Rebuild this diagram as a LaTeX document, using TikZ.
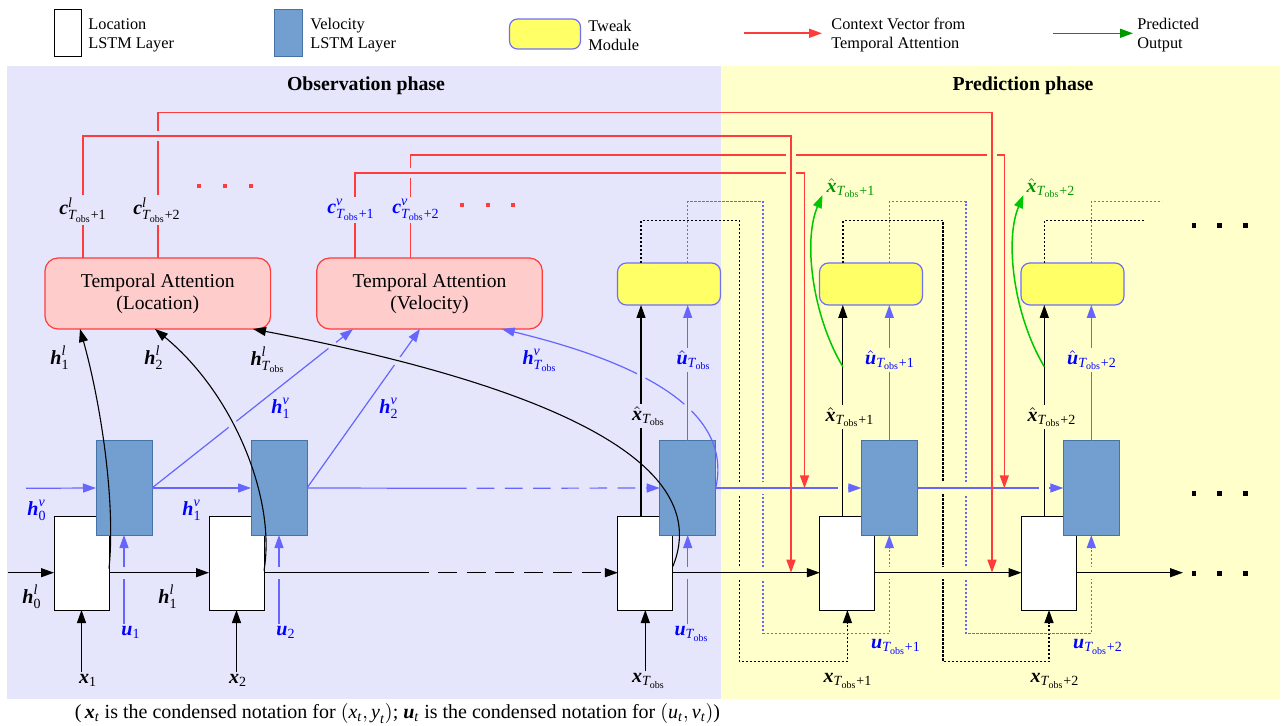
\documentclass[tikz,border=0pt]{standalone}
\usepackage{fontspec}
\usepackage{amsmath}
\setmainfont{Liberation Serif}
\setsansfont{Liberation Sans}
\usetikzlibrary{arrows.meta,calc,intersections}
\definecolor{lav}{RGB}{229,229,251}
\definecolor{yel}{RGB}{255,255,204}
\definecolor{velfill}{RGB}{114,159,207}
\definecolor{velborder}{RGB}{69,114,167}
\definecolor{twfill}{RGB}{255,255,102}
\definecolor{twborder}{RGB}{110,110,255}
\definecolor{tafill}{RGB}{255,204,204}
\definecolor{tared}{RGB}{255,60,60}
\definecolor{lblue}{RGB}{102,102,255}
\definecolor{tblue}{RGB}{0,0,255}
\definecolor{garrow}{RGB}{0,200,0}
\definecolor{gtext}{RGB}{0,150,0}
\newcommand{\bv}[1]{\text{\bfseries\itshape #1}}
\newcommand{\iv}[1]{\text{\itshape #1}}
\newcommand{\rv}[1]{\text{#1}}
\newcommand{\Tob}{\iv{T}_{\rv{obs}}}
\newcommand{\gapp}[5]{\fill[#1] ($(#2,#3)+(-#4,-#5)$) rectangle ($(#2,#3)+(#4,#5)$);}
\newcommand{\sqd}[3]{\fill[#1] ($(#2,#3)+(-2.3,-2.3)$) rectangle ($(#2,#3)+(2.3,2.3)$);}
\begin{document}
\begin{tikzpicture}[x=0.5pt,y=-0.5pt,
  kline/.style={draw=black,line width=0.55pt},
  bline/.style={draw=lblue,line width=0.6pt},
  rline/.style={draw=tared,line width=0.8pt},
  gline/.style={draw=garrow,line width=0.75pt},
  arr/.style={-{Triangle[length=6.5pt,width=4.5pt]}},
  kdot/.style={draw=black,line width=0.7pt,dash pattern=on 1.1pt off 0.9pt},
  bdot/.style={draw=lblue,line width=0.7pt,dash pattern=on 1.1pt off 0.9pt},
  locbox/.style={draw=black,fill=white,line width=0.5pt,minimum width=27.5pt,minimum height=46.5pt,inner sep=0pt,outer sep=0pt},
  velbox/.style={draw=velborder,fill=velfill,line width=0.5pt,minimum width=28pt,minimum height=47pt,inner sep=0pt,outer sep=0pt},
  tweak/.style={draw=twborder,fill=twfill,line width=0.6pt,rounded corners=4.5pt,minimum width=51.5pt,minimum height=21pt,inner sep=0pt,outer sep=0pt},
  tabox/.style={draw=tared,fill=tafill,line width=0.6pt,rounded corners=6.5pt,minimum width=112.8pt,minimum height=35.5pt,inner sep=0pt,outer sep=0pt,align=center,font=\fontsize{9.8}{11}\selectfont},
  lbl/.style={inner sep=1pt,font=\fontsize{10}{12}\selectfont},
  blbl/.style={lbl,text=tblue},
  glbl/.style={lbl,text=gtext},
  legtext/.style={anchor=west,align=left,inner sep=0pt,font=\fontsize{8.15}{9.5}\selectfont},
  ttl/.style={font=\bfseries\fontsize{9.9}{11}\selectfont,inner sep=0pt},
  captxt/.style={font=\fontsize{10}{12}\selectfont,inner sep=0pt}
]
\useasboundingbox (0,0) rectangle (1284,726);
% backgrounds
\fill[lav] (7,66) rectangle (720.5,699);
\fill[yel] (720.5,66) rectangle (1280,699);
% titles
\node[ttl] (tO) at (366,85.5) {Observation phase};
\node[ttl] (tP) at (1023,85.5) {Prediction phase};
% caption
\node[captxt] (capt) at (397.5,713.5) {(\,$\bv{x}_{\iv{t}}$ is the condensed notation for $\left(\iv{x}_{\iv{t}},\iv{y}_{\iv{t}}\right)$; $\bv{u}_{\iv{t}}$ is the condensed notation for $\left(\iv{u}_{\iv{t}},\iv{v}_{\iv{t}}\right)$)};
% legend
\node[locbox,minimum width=13.5pt,minimum height=23.3pt] (lgL) at (67.5,33.3) {};
\node[legtext] (lgLt) at (88,35) {Location\\LSTM Layer};
\node[velbox,minimum width=14pt,minimum height=23.3pt] (lgV) at (288,33.3) {};
\node[legtext] (lgVt) at (310,35) {Velocity\\LSTM Layer};
\node[tweak,minimum width=35.5pt,minimum height=15pt,rounded corners=4pt] (lgT) at (545,34) {};
\node[legtext] (lgTt) at (588,35) {Tweak\\Module};
\coordinate (lgR1) at (744,33.3); \coordinate (lgR2) at (822,33.3);
\draw[rline,arr] (lgR1) -- (lgR2);
\node[legtext] (lgRt) at (831,35) {Context Vector from\\Temporal Attention};
\coordinate (lgG1) at (1053,33.3); \coordinate (lgG2) at (1133,33.3);
\draw[gline,draw=gtext,arr] (lgG1) -- (lgG2);
\node[legtext] (lgGt) at (1137,35) {Predicted\\Output};
% main boxes
\node[locbox] (L1) at (81.5,563.5) {};
\node[locbox] (L2) at (236.5,563.5) {};
\node[locbox] (L3) at (645.3,563.5) {};
\node[locbox] (L4) at (847.4,563.5) {};
\node[locbox] (L5) at (1049,563.5) {};
\node[velbox] (V1) at (124,488) {};
\node[velbox] (V2) at (279,488) {};
\node[velbox] (V3) at (687.7,488) {};
\node[velbox] (V4) at (889.3,488) {};
\node[velbox] (V5) at (1091.3,488) {};
\node[tweak] (T1) at (669,284) {};
\node[tweak] (T2) at (871,284) {};
\node[tweak] (T3) at (1072.5,284) {};
\node[tabox] (TAL) at (157.8,293.5) {Temporal Attention\\(Location)};
\node[tabox] (TAV) at (429.5,293.5) {Temporal Attention\\(Velocity)};
% labels
\node[lbl] (hl1) at (60,358) {$\bv{h}^{\iv{l}}_{\rv{1}}$};
\node[lbl] (hl2) at (154,358) {$\bv{h}^{\iv{l}}_{\rv{2}}$};
\node[lbl] (hlT) at (268,360) {$\bv{h}^{\iv{l}}_{\Tob}$};
\node[blbl] (hv1u) at (281,408) {$\bv{h}^{\iv{v}}_{\rv{1}}$};
\node[blbl] (hv2) at (389,408) {$\bv{h}^{\iv{v}}_{\rv{2}}$};
\node[blbl] (hvT) at (540,360) {$\bv{h}^{\iv{v}}_{\Tob}$};
\node[blbl] (hv0) at (37,510) {$\bv{h}^{\iv{v}}_{\rv{0}}$};
\node[blbl] (hv1) at (192,510) {$\bv{h}^{\iv{v}}_{\rv{1}}$};
\node[lbl] (hl0) at (32,597) {$\bv{h}^{\iv{l}}_{\rv{0}}$};
\node[lbl] (hl1b) at (168,597) {$\bv{h}^{\iv{l}}_{\rv{1}}$};
\node[blbl] (u1) at (131,632) {$\bv{u}_{\rv{1}}$};
\node[blbl] (u2) at (286,632) {$\bv{u}_{\rv{2}}$};
\node[blbl] (uT) at (692,634) {$\bv{u}_{\Tob}$};
\node[lbl] (x1) at (88,680) {$\bv{x}_{\rv{1}}$};
\node[lbl] (x2) at (238,680) {$\bv{x}_{\rv{2}}$};
\node[lbl] (xT) at (649,681) {$\bv{x}_{\Tob}$};
\node[lbl] (xhT) at (649,416) {$\hat{\bv{x}}_{\Tob}$};
\node[blbl] (uhT) at (694,360) {$\hat{\bv{u}}_{\Tob}$};
\node[lbl] (x1p) at (848,681) {$\bv{x}_{\Tob\rv{+1}}$};
\node[blbl] (u1p) at (896,647) {$\bv{u}_{\Tob\rv{+1}}$};
\node[lbl] (x2p) at (1055,681) {$\bv{x}_{\Tob\rv{+2}}$};
\node[blbl] (u2p) at (1098,647) {$\bv{u}_{\Tob\rv{+2}}$};
\node[lbl] (xh1p) at (850,417) {$\hat{\bv{x}}_{\Tob\rv{+1}}$};
\node[lbl] (xh2p) at (1052,417) {$\hat{\bv{x}}_{\Tob\rv{+2}}$};
\node[blbl] (uh1p) at (890,360) {$\hat{\bv{u}}_{\Tob\rv{+1}}$};
\node[blbl] (uh2p) at (1092,360) {$\hat{\bv{u}}_{\Tob\rv{+2}}$};
\node[glbl] (gx1) at (851,188) {$\hat{\bv{x}}_{\Tob\rv{+1}}$};
\node[glbl] (gx2) at (1051,188) {$\hat{\bv{x}}_{\Tob\rv{+2}}$};
\node[lbl] (cl1) at (83,210) {$\bv{c}^{\iv{l}}_{\Tob\rv{+1}}$};
\node[lbl] (cl2) at (157,210) {$\bv{c}^{\iv{l}}_{\Tob\rv{+2}}$};
\node[blbl] (cv1) at (351,210) {$\bv{c}^{\iv{v}}_{\Tob\rv{+1}}$};
\node[blbl] (cv2) at (416,210) {$\bv{c}^{\iv{v}}_{\Tob\rv{+2}}$};
% helper coordinates
\coordinate (hl) at (0,572.7);
\coordinate (hv) at (0,488.3);
\coordinate (X3) at (641,0);
\coordinate (X4) at (842.8,0);
\coordinate (X5) at (1044.3,0);
\coordinate (d1a) at (739.4,220.7); \coordinate (d1b) at (739.4,661.7);
\coordinate (e1a) at (762.8,201.7); \coordinate (e1b) at (762.8,633.3);
\coordinate (d2a) at (942.8,220.7); \coordinate (d2b) at (942.8,661.7);
\coordinate (e2a) at (966,201.7); \coordinate (e2b) at (966,633.3);
\coordinate (d3a) at (1145,220.7);
\coordinate (e3a) at (1162,201.7);
% dotted feedback from tweak modules
\draw[kdot,arr] (T1.north -| X3) |- (d1a) -- (d1b) -| (L4.south);
\draw[bdot,arr] (T1.north -| V3) |- (e1a) -- (e1b) -| (V4.south);
\draw[kdot,arr] (T2.north -| X4) |- (d2a) -- (d2b) -| (L5.south);
\draw[bdot,arr] (T2.north -| V4) |- (e2a) -- (e2b) -| (V5.south);
\draw[kdot] (T3.north -| X5) |- (d3a);
\draw[bdot] (T3.north -| V5) |- (e3a);
% inputs from below
\draw[kline,arr] (L1.south |- x1.north) -- (L1.south);
\draw[kline,arr] (L2.south |- x2.north) -- (L2.south);
\draw[kline,arr] (L3.south |- xT.north) -- (L3.south);
\draw[bline,arr] (V1.south |- u1.north) -- (V1.south);
\draw[bline,arr] (V2.south |- u2.north) -- (V2.south);
\draw[bline,arr] (V3.south |- uT.north) -- (V3.south);
% gaps under the horizontal lines
\gapp{lav}{124}{572.7}{3}{6}
\gapp{lav}{279}{572.7}{3}{6}
\gapp{lav}{687.7}{572.7}{3}{6}
\gapp{yel}{739.4}{572.7}{3}{6}
\gapp{yel}{762.8}{572.7}{3}{6}
\gapp{yel}{889.3}{572.7}{3}{6}
\gapp{yel}{942.8}{572.7}{3}{6}
\gapp{yel}{966}{572.7}{3}{6}
\gapp{yel}{1091.3}{572.7}{3}{6}
\gapp{yel}{739.4}{488.3}{3}{6}
\gapp{yel}{762.8}{488.3}{3}{6}
\gapp{yel}{942.8}{488.3}{3}{6}
\gapp{yel}{966}{488.3}{3}{6}
% location hidden-state line
\coordinate (inL) at (7.5,572.7);
\draw[kline,arr] (inL) -- (L1.west |- hl);
\draw[kline,arr] (L1.east |- hl) -- (L2.west |- hl);
\coordinate (dl1) at (429.3,572.7); \coordinate (dl2) at (438,572.7);
\draw[kline] (L2.east |- hl) -- (dl1);
\draw[kline,arr,dash pattern=on 9.5pt off 4.85pt] (dl2) -- (L3.west |- hl);
\draw[kline,arr] (L3.east |- hl) -- (L4.west |- hl);
\draw[kline,arr] (L4.east |- hl) -- (L5.west |- hl);
\coordinate (endL) at (1183,572.7);
\draw[kline,arr] (L5.east |- hl) -- (endL);
% velocity hidden-state line
\coordinate (inV) at (26,488.3);
\draw[bline,arr] (inV) -- (V1.west);
\draw[bline,arr] (V1.east) -- (V2.west);
\coordinate (dv1s) at (466.7,488.3); \coordinate (dv2s) at (476.7,488.3);
\draw[bline] (V2.east) -- (dv1s);
\draw[bline,arr,dash pattern=on 8.8pt off 5.3pt] (dv2s) -- (V3.west);
\draw[bline,arr] (V3.east) -- (V4.west);
\draw[bline,arr] (V4.east) -- (V5.west);
% blue curve h^v_Tobs
\coordinate (b1) at (353,0); \coordinate (b2) at (420,0); \coordinate (b3) at (501.7,0);
\coordinate (a1) at (80,0); \coordinate (a2) at (155,0); \coordinate (a3) at (253,0);
\draw[bline,arr,name path=cvT] (V3.east) .. controls (730,426) and (676,371) .. (TAV.south -| b3);
\path[name path=xv3] (641,300) -- (641,410);
\path[name path=uv3] (687.7,377) -- (687.7,441);
\path[name intersections={of=cvT and xv3,by={j1}}];
\path[name intersections={of=cvT and uv3,by={j2}}];
\fill[lav] (j1) circle[radius=5];
\fill[lav] (j2) circle[radius=5];
\gapp{lav}{641}{488.3}{5}{3}
\gapp{yel}{842.8}{488.3}{5}{3}
\gapp{yel}{1044.3}{488.3}{5}{3}
% x-hat and u-hat lines
\draw[kline] (L3.north -| X3) -- (xhT.south -| X3);
\draw[kline,arr] (xhT.north -| X3) -- (T1.south -| X3);
\draw[kline] (L4.north -| X4) -- (xh1p.south -| X4);
\draw[kline,arr] (xh1p.north -| X4) -- (T2.south -| X4);
\draw[kline] (L5.north -| X5) -- (xh2p.south -| X5);
\draw[kline,arr] (xh2p.north -| X5) -- (T3.south -| X5);
\draw[bline] (V3.north) -- (uhT.south -| V3.north);
\draw[bline,arr] (uhT.north -| V3.north) -- (T1.south -| V3.north);
\draw[bline] (V4.north) -- (uh1p.south -| V4.north);
\draw[bline,arr] (uh1p.north -| V4.north) -- (T2.south -| V4.north);
\draw[bline] (V5.north) -- (uh2p.south -| V5.north);
\draw[bline,arr] (uh2p.north -| V5.north) -- (T3.south -| V5.north);
% blue diagonals to velocity attention
\draw[bline,arr,name path=dv1] (V1.east) -- (TAV.south -| b1);
\draw[bline,arr,name path=dv2] (V2.east) -- (TAV.south -| b2);
% black curves to location attention
\def\cA{($(L1.east)+(0,5)$) .. controls (116,500) and (100,400) .. (TAL.south -| a1)}
\def\cB{($(L2.east)+(0,7)$) .. controls (276,500) and (235,395) .. (TAL.south -| a2)}
\def\cC{($(L3.east)+(0,3)$) .. controls (711.5,472.5) and (582,392) .. (TAL.south -| a3)}
\path[name path=pB] \cB;
\path[name path=pC] \cC;
\path[name intersections={of=dv1 and pB,by={i1}}];
\path[name intersections={of=dv1 and pC,by={i2}}];
\path[name intersections={of=dv2 and pC,by={i3}}];
\fill[lav] (i1) circle[radius=5];
\fill[lav] (i2) circle[radius=5];
\fill[lav] (i3) circle[radius=5];
\draw[kline,arr] \cA;
\draw[kline,arr] \cB;
\draw[kline,arr] \cC;
% context vectors (red)
\coordinate (CL1x) at (82.7,0); \coordinate (CL2x) at (157.7,0);
\coordinate (CV1x) at (354.8,0); \coordinate (CV2x) at (410.6,0);
\coordinate (rA) at (791,136); \coordinate (rB) at (992,112.7);
\coordinate (rC) at (804.5,173.3); \coordinate (rD) at (1004.3,155);
\draw[rline] (TAL.north -| CL1x) -- (cl1.south -| CL1x);
\draw[rline] (TAL.north -| CL2x) -- (cl2.south -| CL2x);
\draw[rline] (TAV.north -| CV1x) -- (cv1.south -| CV1x);
\draw[rline] (TAV.north -| CV2x) -- (cv2.south -| CV2x);
\draw[rline,arr] (cv2.north -| CV2x) |- (rD) -- (rD |- hv);
\gapp{lav}{410.6}{173.3}{3}{5}
\draw[rline,arr] (cv1.north -| CV1x) |- (rC) -- (rC |- hv);
\gapp{yel}{992}{155}{5}{3}
\draw[rline,arr] (cl2.north -| CL2x) |- (rB) -- (rB |- hl);
\gapp{lav}{157.7}{136}{3}{5}
\gapp{yel}{791}{155}{5}{3}
\gapp{yel}{791}{173.3}{5}{3}
\draw[rline,arr] (cl1.north -| CL1x) |- (rA) -- (rA |- hl);
% green predicted outputs
\coordinate (g1s) at (842.8,366.7); \coordinate (g1e) at (822.5,195);
\coordinate (g2s) at (1044.3,366.7); \coordinate (g2e) at (1023.5,195);
\draw[gline,arr] (g1s) .. controls (812,315) and (803,240) .. (g1e);
\draw[gline,arr] (g2s) .. controls (1013.5,315) and (1004.5,240) .. (g2e);
% ellipses
\sqd{tared}{199}{186} \sqd{tared}{225}{186} \sqd{tared}{251}{186}
\sqd{tared}{462}{205} \sqd{tared}{488}{205} \sqd{tared}{513}{205}
\sqd{black}{1194}{225.7} \sqd{black}{1219.5}{225.7} \sqd{black}{1245.6}{225.7}
\sqd{black}{1194}{493.3} \sqd{black}{1219.5}{493.3} \sqd{black}{1245.6}{493.3}
\sqd{black}{1194}{573.3} \sqd{black}{1219.5}{573.3} \sqd{black}{1245.6}{573.3}
\end{tikzpicture}
\end{document}
